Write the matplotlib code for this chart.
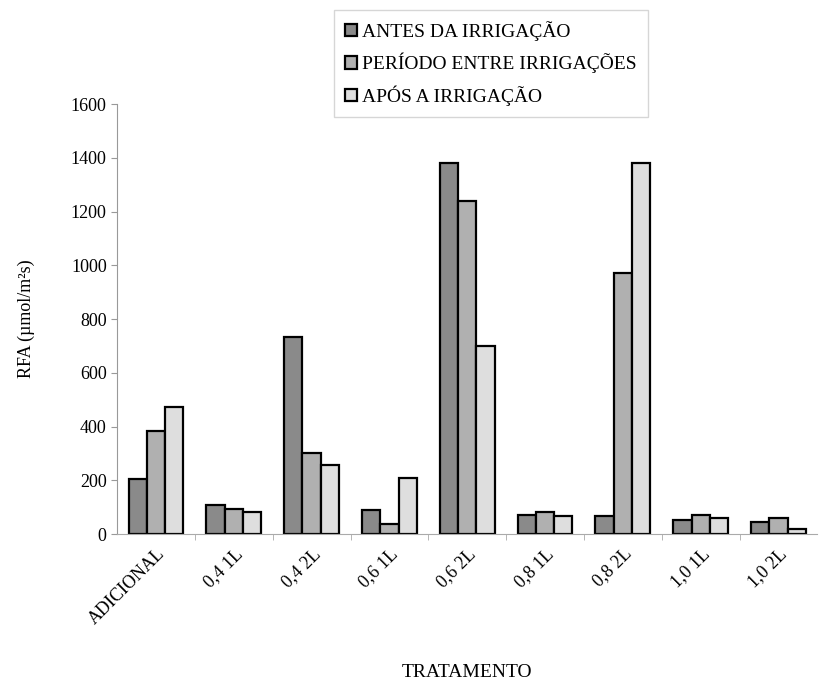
import numpy as np
import matplotlib.pyplot as plt

# RFA values
tratamentos = ["ADICIONAL", "0,4 1L", "0,4 2L", "0,6 1L", "0,6 2L",
               "0,8 1L", "0,8 2L", "1,0 1L", "1,0 2L"]
antes = [205, 107, 733, 89, 1381, 70, 67, 52, 44]
periodo = [385, 93, 300, 37, 1241, 81, 970, 70, 59]
apos = [472, 81, 256, 207, 700, 67, 1381, 59, 20]

series = [("ANTES DA IRRIGAÇÃO", antes, "#8a8a8a"),
          ("PERÍODO ENTRE IRRIGAÇÕES", periodo, "#b0b0b0"),
          ("APÓS A IRRIGAÇÃO", apos, "#dedede")]

plt.rcParams["font.family"] = ["Liberation Serif", "DejaVu Serif"]

fig = plt.figure(figsize=(8.19, 6.9), dpi=100)
ax = fig.add_axes([0.143, 0.226, 0.855, 0.623])

x = np.arange(len(tratamentos))
w = 0.235
for i, (lab, vals, col) in enumerate(series):
    ax.bar(x + (i - 1) * w, vals, w, color=col, edgecolor="black",
           linewidth=1.6, label=lab)

ax.set_xlim(-0.5, len(tratamentos) - 0.5)
ax.set_ylim(0, 1600)
ax.set_yticks(np.arange(0, 1601, 200))
ax.tick_params(axis="y", labelsize=13, length=4, color="#999999")
ax.set_xticks(x)
ax.set_xticklabels(tratamentos, rotation=45, ha="right",
                   rotation_mode="anchor", fontsize=13)
ax.tick_params(axis="x", length=0, pad=8)
ax.set_xticks(x[:-1] + 0.5, minor=True)
ax.tick_params(axis="x", which="minor", length=4, color="#aaaaaa")

for s in ["top", "right"]:
    ax.spines[s].set_visible(False)
ax.spines["left"].set_color("#999999")
ax.spines["bottom"].set_color("#aaaaaa")

ax.set_ylabel("RFA (µmol/m²s)", fontsize=13, labelpad=26)
ax.set_xlabel("TRATAMENTO", fontsize=14, labelpad=26)

fig.legend(loc="upper left", bbox_to_anchor=(0.408, 0.985), fontsize=14,
           frameon=True, fancybox=False, edgecolor="#cccccc",
           handlelength=0.6, handleheight=0.6, handletextpad=0.3,
           labelspacing=0.62, borderpad=0.55, borderaxespad=0)

fig.savefig("out.png", dpi=100)
